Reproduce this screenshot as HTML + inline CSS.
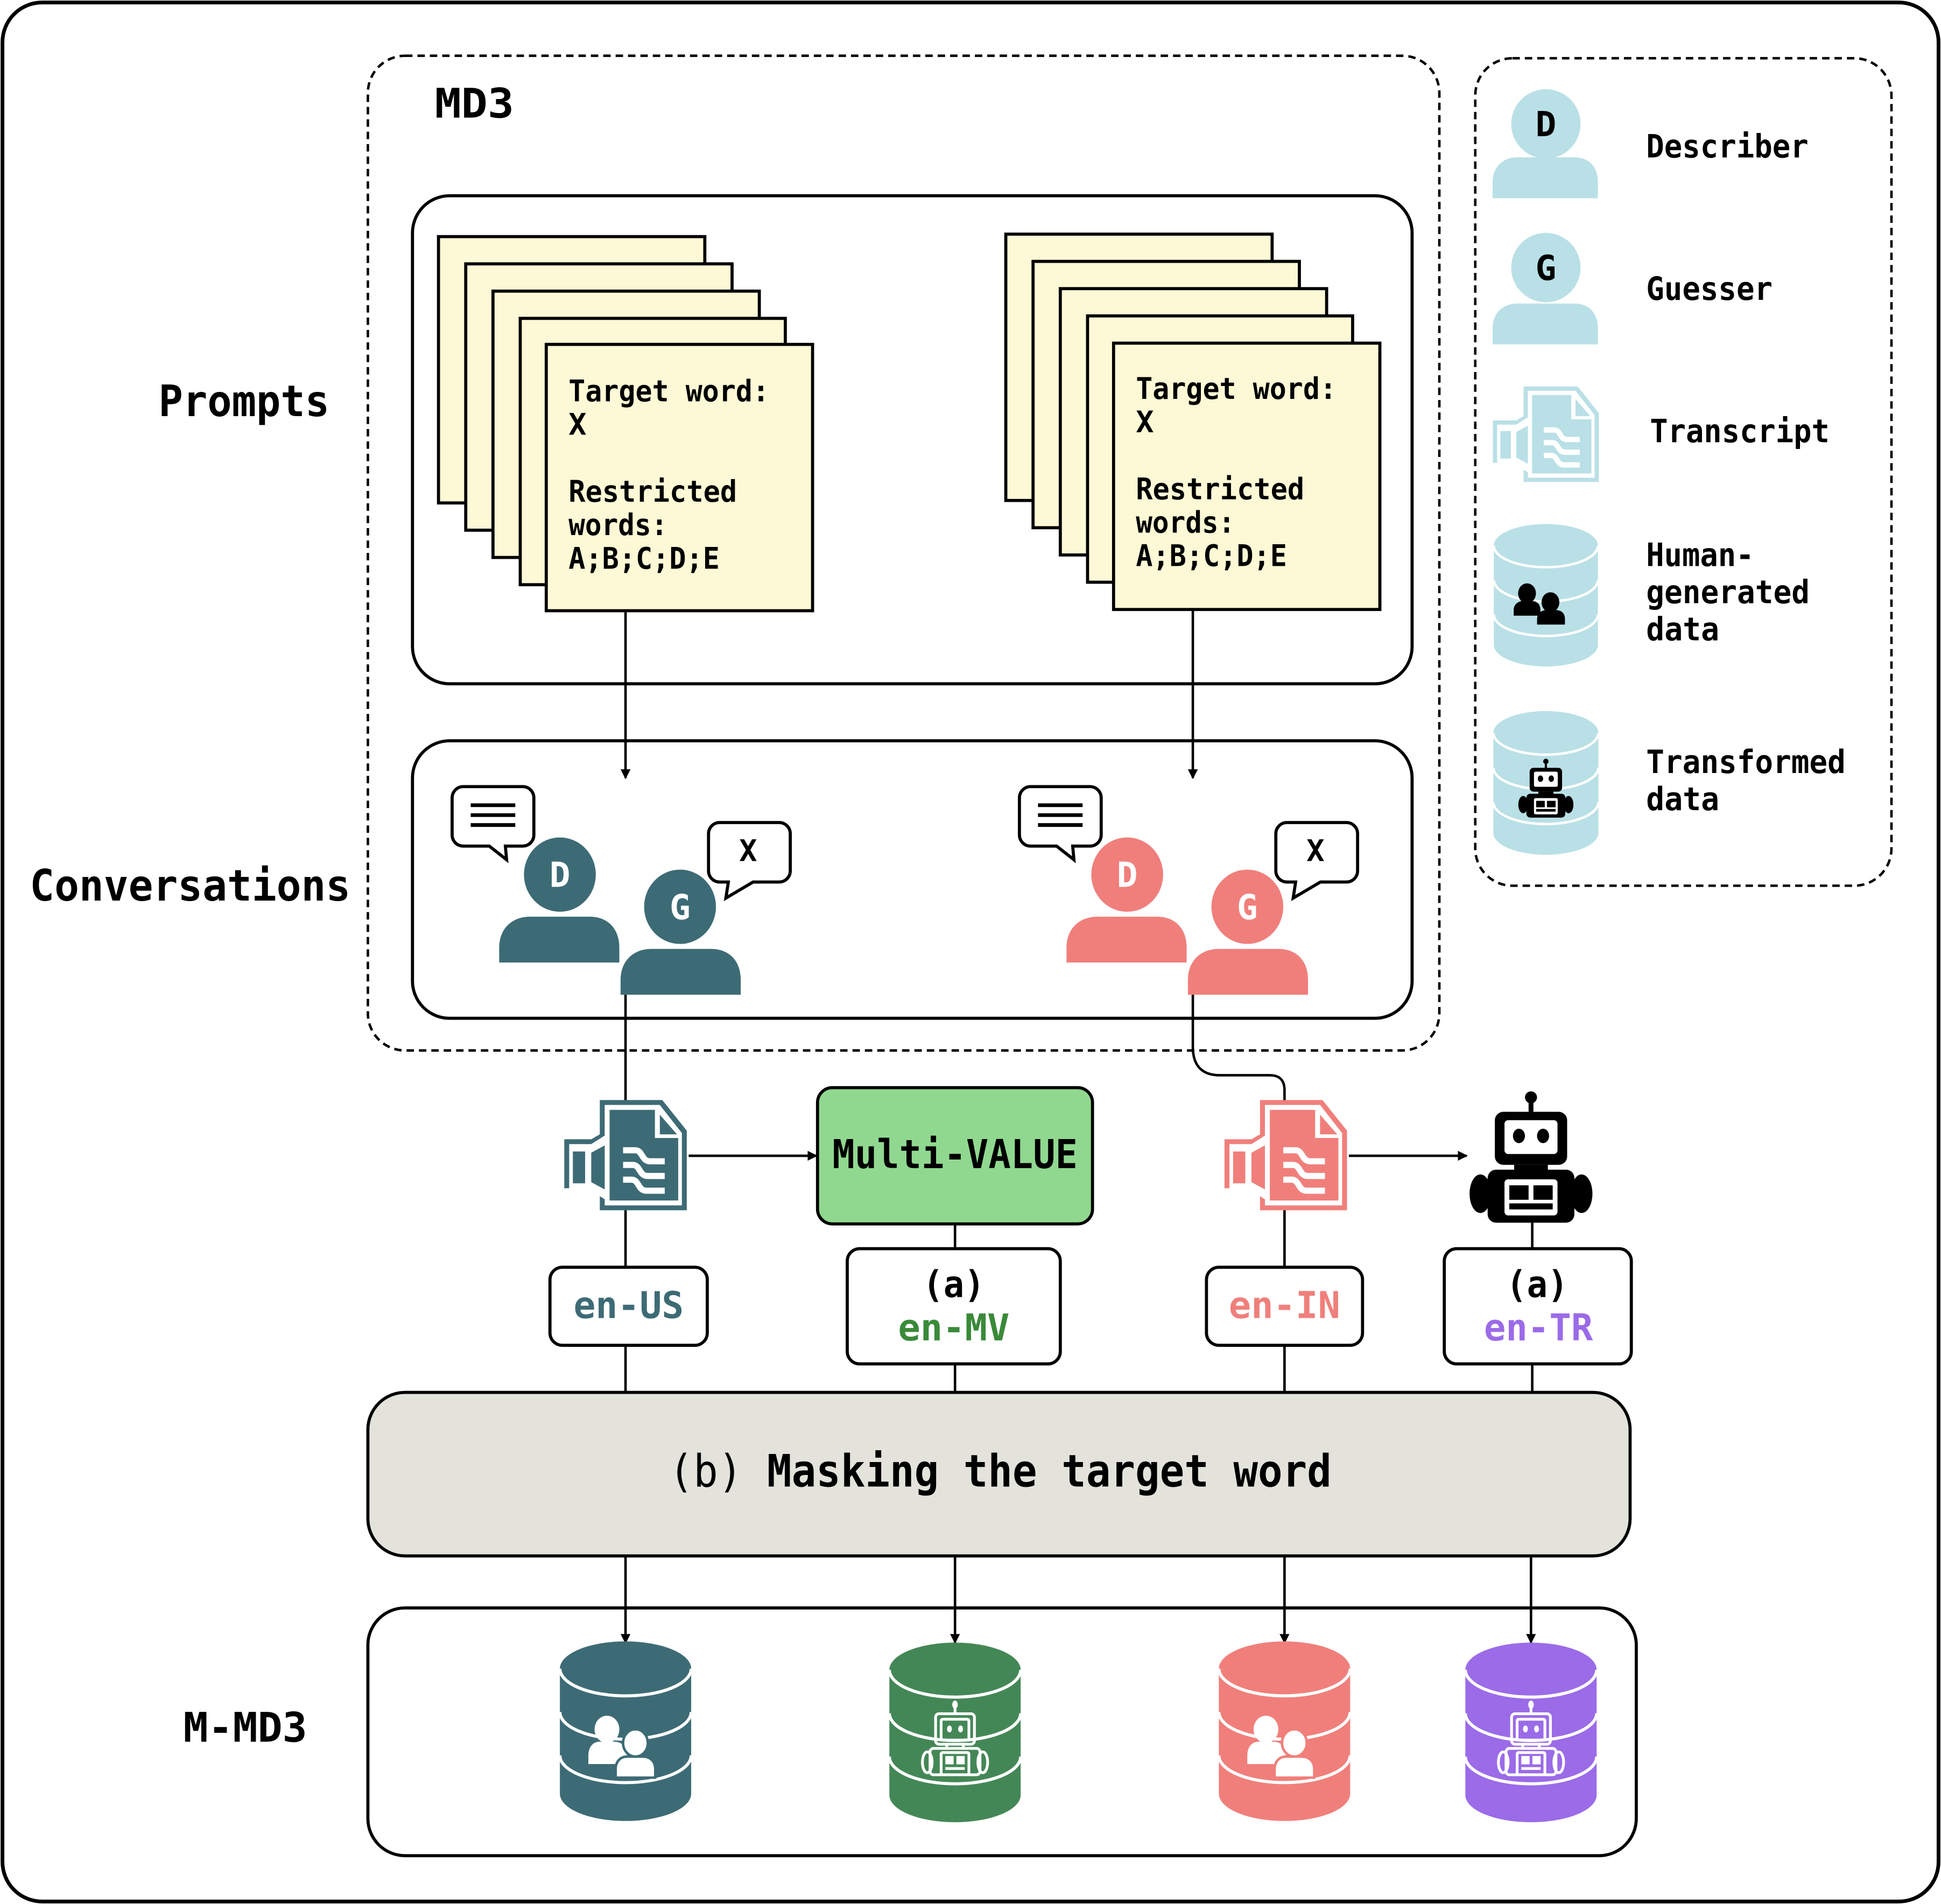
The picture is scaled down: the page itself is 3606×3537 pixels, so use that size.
<!DOCTYPE html>
<html><head><meta charset="utf-8"><style>
html,body{margin:0;padding:0;background:#fff;}
svg{display:block;}
text{font-family:"DejaVu Sans Mono","Liberation Mono",monospace;font-weight:bold;}
</style></head><body>
<svg width="3606" height="3537" viewBox="0 0 1567 1537" xmlns="http://www.w3.org/2000/svg">
<defs>
<marker id="ah" markerWidth="8" markerHeight="8" refX="7" refY="4" orient="auto" markerUnits="userSpaceOnUse"><path d="M0,0 L8,4 L0,8 Z" fill="#000"/></marker>
<symbol id="tr" viewBox="0 0 100 90" overflow="visible">
 <path d="M29,0 H80 L100,25 V90 H29 V76 L22,72 H0 V32 H22 L29,28 Z" fill="currentColor"/>
 <path d="M33,4 H78 L96,27 V86 H33 Z" fill="#fff"/>
 <path d="M37,8 H74 V31 H93 V82 H37 Z" fill="currentColor"/>
 <path d="M78,12 L92,28 H78 Z" fill="currentColor"/>
 <path d="M4,36 H22 L33,29 V81 L22,74 H4 Z" fill="#fff"/>
 <rect x="7" y="42" width="10" height="26" fill="currentColor"/>
 <path d="M22,43 L33,37 V73 L22,67 Z" fill="currentColor"/>
 <path d="M35,30 V82" stroke="#fff" stroke-width="3"/>
 <g stroke="#fff" stroke-width="5" fill="none"><path d="M48,41 H58 C64,41 63,50 70,50 H82"/><path d="M48,53 H56 C62,53 61,62 68,62 H82"/><path d="M48,65 H55 C61,65 60,74 67,74 H82"/></g>
</symbol>
<symbol id="cyl" viewBox="0 0 106 145" overflow="visible">
 <path d="M0,22 A53,22 0 0 1 106,22 V123 A53,22 0 0 1 0,123 Z" fill="currentColor"/>
 <g fill="none" stroke="#fff" stroke-width="2.5"><path d="M0,22 A53,22 0 0 0 106,22"/><path d="M0,57 A53,22 0 0 0 106,57"/><path d="M0,92 A53,22 0 0 0 106,92"/></g>
</symbol>
<symbol id="ppl" viewBox="0 0 60 50" overflow="visible">
 <ellipse cx="18" cy="11" rx="10" ry="11" fill="#fff"/>
 <path d="M3,39 V32 C3,25 7,21 12,21 H24 C30,21 34,25 34,32 V39 Z" fill="#fff"/>
 <ellipse cx="41" cy="22" rx="10" ry="11" fill="#fff" stroke="currentColor" stroke-width="2"/>
 <path d="M25,50 V43 C25,37 29,33 34,33 H47 C53,33 57,37 57,43 V50 Z" fill="#fff" stroke="currentColor" stroke-width="2"/>
</symbol>
<symbol id="rob" viewBox="0 0 100 110" overflow="visible">
 <circle cx="50" cy="6" r="5" fill="currentColor"/>
 <rect x="48" y="8" width="4" height="10" fill="currentColor"/>
 <rect x="20" y="18" width="60" height="44" rx="7" fill="currentColor"/>
 <rect x="28" y="25" width="44" height="28" rx="3" fill="#fff"/>
 <ellipse cx="40" cy="38" rx="5" ry="6" fill="currentColor"/><ellipse cx="60" cy="38" rx="5" ry="6" fill="currentColor"/>
 <rect x="36" y="62" width="28" height="6" fill="currentColor"/>
 <rect x="14" y="66" width="72" height="44" rx="7" fill="currentColor"/>
 <ellipse cx="8" cy="86" rx="9" ry="16" fill="currentColor"/><ellipse cx="92" cy="86" rx="9" ry="16" fill="currentColor"/>
 <rect x="28" y="74" width="44" height="30" rx="3" fill="#fff"/>
 <rect x="32" y="79" width="16" height="12" fill="currentColor"/><rect x="52" y="79" width="16" height="12" fill="currentColor"/>
 <rect x="32" y="94" width="36" height="5" fill="currentColor"/>
</symbol>
<symbol id="robw" viewBox="0 0 100 110" overflow="visible">
 <g fill="none" stroke="#fff" stroke-width="4">
 <ellipse cx="50" cy="7" rx="4" ry="6" fill="#fff" stroke="none"/>
 <path d="M50,12 V20"/>
 <rect x="22" y="20" width="56" height="44" rx="5"/>
 <rect x="30" y="28" width="40" height="30" rx="2"/>
 <path d="M38,64 V70 M62,64 V70"/>
 <rect x="14" y="70" width="72" height="38" rx="5"/>
 <rect x="30" y="76" width="40" height="32" rx="2"/>
 <ellipse cx="10" cy="90" rx="7" ry="15"/><ellipse cx="90" cy="90" rx="7" ry="15"/>
 </g>
 <ellipse cx="42" cy="42" rx="3.5" ry="5" fill="#fff"/><ellipse cx="58" cy="42" rx="3.5" ry="5" fill="#fff"/>
 <rect x="36" y="81" width="12" height="12" fill="#fff"/><rect x="52" y="81" width="12" height="12" fill="#fff"/>
 <rect x="36" y="97" width="28" height="4" fill="#fff"/>
</symbol>
<symbol id="bubT" viewBox="0 0 68 58" overflow="visible">
 <path d="M10,1 H58 A9,9 0 0 1 67,10 V40 A9,9 0 0 1 58,49 H44 L45,60 L31,49 H10 A9,9 0 0 1 1,40 V10 A9,9 0 0 1 10,1 Z" fill="#fff" stroke="#000" stroke-width="2.5"/>
 <path d="M16,16 H52 M16,24 H52 M16,32 H52" stroke="#000" stroke-width="3"/>
</symbol>
<symbol id="bubX" viewBox="0 0 68 58" overflow="visible">
 <path d="M10,1 H58 A9,9 0 0 1 67,10 V40 A9,9 0 0 1 58,49 H37 L15,62 L17,49 H10 A9,9 0 0 1 1,40 V10 A9,9 0 0 1 10,1 Z" fill="#fff" stroke="#000" stroke-width="2.5"/>
</symbol>
</defs>

<rect x="2" y="2" width="1563" height="1533" rx="32" fill="#fff" stroke="#000" stroke-width="3"/>
<rect x="297" y="45" width="865" height="803" rx="30" fill="none" stroke="#000" stroke-width="2" stroke-dasharray="6,4"/>
<rect x="1191" y="47" width="336" height="668" rx="30" fill="none" stroke="#000" stroke-width="2" stroke-dasharray="6,4"/>
<text x="351" y="95" font-size="33" textLength="64" lengthAdjust="spacingAndGlyphs">MD3</text>

<rect x="333" y="158" width="807" height="394" rx="30" fill="#fff" stroke="#000" stroke-width="2.5"/>
<rect x="333" y="598" width="807" height="224" rx="30" fill="#fff" stroke="#000" stroke-width="2.5"/>
<text x="128" y="336" font-size="35" textLength="138" lengthAdjust="spacingAndGlyphs">Prompts</text>
<text x="24" y="727" font-size="35" textLength="259" lengthAdjust="spacingAndGlyphs">Conversations</text>

<!-- paper stacks -->
<g fill="#fdf9d6" stroke="#000" stroke-width="2.5">
<rect x="354" y="191" width="215" height="215"/><rect x="376" y="213" width="215" height="215"/><rect x="398" y="235" width="215" height="215"/><rect x="420" y="257" width="214" height="215"/><rect x="441" y="278" width="215" height="215"/>
<rect x="812" y="189" width="215" height="215"/><rect x="834" y="211" width="215" height="215"/><rect x="856" y="233" width="215" height="215"/><rect x="878" y="255" width="214" height="215"/><rect x="899" y="277" width="215" height="215"/>
</g>
<g font-size="24">
<text x="459" y="324" textLength="162" lengthAdjust="spacingAndGlyphs">Target word:</text><text x="459" y="351" font-weight="normal">X</text>
<text x="459" y="405" textLength="136" lengthAdjust="spacingAndGlyphs">Restricted</text><text x="459" y="432" textLength="80" lengthAdjust="spacingAndGlyphs">words:</text><text x="459" y="459" font-weight="normal" textLength="122" lengthAdjust="spacingAndGlyphs">A;B;C;D;E</text>
<text x="917" y="322" textLength="162" lengthAdjust="spacingAndGlyphs">Target word:</text><text x="917" y="349" font-weight="normal">X</text>
<text x="917" y="403" textLength="136" lengthAdjust="spacingAndGlyphs">Restricted</text><text x="917" y="430" textLength="80" lengthAdjust="spacingAndGlyphs">words:</text><text x="917" y="457" font-weight="normal" textLength="122" lengthAdjust="spacingAndGlyphs">A;B;C;D;E</text>
</g>
<g stroke="#000" stroke-width="2" fill="none">
<path d="M505,493 V628" marker-end="url(#ah)"/>
<path d="M963,492 V628" marker-end="url(#ah)"/>
</g>

<!-- people left -->
<use href="#bubT" x="364" y="634" width="68" height="58"/>
<use href="#bubX" x="571" y="663" width="68" height="58"/>
<text x="604" y="695" font-size="24" text-anchor="middle">X</text>
<g fill="#3d6b75">
<ellipse cx="452" cy="706" rx="29" ry="30"/><path d="M403,777 V765 C403,750 413,740 428,740 H476 C491,740 500,750 500,765 V777 Z"/>
<ellipse cx="549" cy="732" rx="29" ry="30"/><path d="M501,803 V791 C501,776 511,766 526,766 H574 C589,766 598,776 598,791 V803 Z"/>
</g>
<text x="452" y="716" font-size="28" fill="#fff" text-anchor="middle" font-family="DejaVu Sans">D</text>
<text x="549" y="742" font-size="28" fill="#fff" text-anchor="middle" font-family="DejaVu Sans">G</text>

<!-- people right -->
<use href="#bubT" x="822" y="634" width="68" height="58"/>
<use href="#bubX" x="1029" y="663" width="68" height="58"/>
<text x="1062" y="695" font-size="24" text-anchor="middle">X</text>
<g fill="#f07f7b">
<ellipse cx="910" cy="706" rx="29" ry="30"/><path d="M861,777 V765 C861,750 871,740 886,740 H934 C949,740 958,750 958,765 V777 Z"/>
<ellipse cx="1007" cy="732" rx="29" ry="30"/><path d="M959,803 V791 C959,776 969,766 984,766 H1032 C1047,766 1056,776 1056,791 V803 Z"/>
</g>
<text x="910" y="716" font-size="28" fill="#fff" text-anchor="middle" font-family="DejaVu Sans">D</text>
<text x="1007" y="742" font-size="28" fill="#fff" text-anchor="middle" font-family="DejaVu Sans">G</text>

<rect x="297" y="1298" width="1024" height="200" rx="30" fill="#fff" stroke="#000" stroke-width="2.5"/>
<text x="148" y="1406" font-size="33" textLength="100" lengthAdjust="spacingAndGlyphs">M-MD3</text>

<!-- connectors middle -->
<g stroke="#000" stroke-width="2" fill="none">
<path d="M505,803 V888"/>
<path d="M963,803 V845 Q963,868 985,868 H1025 Q1037,868 1037,880 V888"/>
<path d="M556,933 H659" marker-end="url(#ah)"/>
<path d="M1089,933 H1184" marker-end="url(#ah)"/>
<path d="M505,977 V1023 M505,1086 V1124"/>
<path d="M771,988 V1008 M771,1101 V1124"/>
<path d="M1037,977 V1023 M1037,1086 V1124"/>
<path d="M1237,987 V1008 M1237,1101 V1124"/>
<path d="M505,1256 V1326" marker-end="url(#ah)"/>
<path d="M771,1256 V1326" marker-end="url(#ah)"/>
<path d="M1037,1256 V1326" marker-end="url(#ah)"/>
<path d="M1236,1256 V1326" marker-end="url(#ah)"/>
</g>

<use href="#tr" x="455" y="888" width="100" height="89" style="color:#3d6b75"/>
<use href="#tr" x="988" y="888" width="100" height="89" style="color:#f07f7b"/>
<use href="#rob" x="1186" y="880" width="100" height="107" style="color:#000"/>

<rect x="660" y="878" width="222" height="110" rx="12" fill="#90d890" stroke="#000" stroke-width="2.5"/>
<text x="672" y="943" font-size="32" textLength="198" lengthAdjust="spacingAndGlyphs">Multi-VALUE</text>

<g fill="#fff" stroke="#000" stroke-width="2.5">
<rect x="444" y="1023" width="127" height="63" rx="10"/>
<rect x="684" y="1008" width="172" height="93" rx="10"/>
<rect x="974" y="1023" width="126" height="63" rx="10"/>
<rect x="1166" y="1008" width="151" height="93" rx="10"/>
</g>
<g font-size="30">
<text x="463" y="1064" fill="#3d6b75" textLength="89" lengthAdjust="spacingAndGlyphs">en-US</text>
<text x="745" y="1047" font-weight="normal" textLength="50" lengthAdjust="spacingAndGlyphs">(a)</text>
<text x="725" y="1082" fill="#3a8a3a" textLength="90" lengthAdjust="spacingAndGlyphs">en-MV</text>
<text x="992" y="1064" fill="#f07f7b" textLength="90" lengthAdjust="spacingAndGlyphs">en-IN</text>
<text x="1216" y="1047" font-weight="normal" textLength="50" lengthAdjust="spacingAndGlyphs">(a)</text>
<text x="1198" y="1082" fill="#9b6be8" textLength="88" lengthAdjust="spacingAndGlyphs">en-TR</text>
</g>

<rect x="297" y="1124" width="1019" height="132" rx="30" fill="#e3e3dc" stroke="#000" stroke-width="2.5"/>
<text x="540" y="1200" font-size="36" textLength="535" lengthAdjust="spacingAndGlyphs"><tspan font-weight="normal">(b) </tspan>Masking the target word</text>

<use href="#cyl" x="452" y="1325" width="106" height="145" style="color:#3d6b75"/>
<use href="#cyl" x="718" y="1325" width="106" height="147" style="color:#448756"/>
<use href="#cyl" x="984" y="1325" width="106" height="145" style="color:#f07f7b"/>
<use href="#cyl" x="1183" y="1325" width="106" height="147" style="color:#9b6be8"/>
<use href="#ppl" x="472" y="1385" width="60" height="50" style="color:#3d6b75"/>
<use href="#ppl" x="1004" y="1385" width="60" height="50" style="color:#f07f7b"/>
<use href="#robw" x="743" y="1372" width="56" height="62"/>
<use href="#robw" x="1208" y="1372" width="56" height="62"/>

<!-- legend -->
<g fill="#b9e0e6">
<circle cx="1248" cy="100" r="28"/><path d="M1205,160 V147 C1205,135 1213,127 1225,127 H1271 C1283,127 1290,135 1290,147 V160 Z"/>
<circle cx="1248" cy="216" r="28"/><path d="M1205,278 V265 C1205,253 1213,245 1225,245 H1271 C1283,245 1290,253 1290,265 V278 Z"/>
</g>
<text x="1248" y="110" font-size="28" text-anchor="middle" font-family="DejaVu Sans">D</text>
<text x="1248" y="226" font-size="28" text-anchor="middle" font-family="DejaVu Sans">G</text>
<use href="#tr" x="1205" y="312" width="86" height="77" style="color:#b9e0e6"/>
<use href="#cyl" x="1205" y="423" width="86" height="115" style="color:#b9e0e6"/>
<use href="#cyl" x="1205" y="574" width="86" height="116" style="color:#b9e0e6"/>
<g transform="translate(1222,470) scale(0.9)"><ellipse cx="12" cy="10" rx="8" ry="9"/><path d="M0,30 V25 C0,20 4,17 8,17 H17 C21,17 24,20 24,25 V30 Z"/><ellipse cx="33" cy="18" rx="8" ry="9"/><path d="M21,38 V33 C21,28 25,25 29,25 H38 C43,25 46,28 46,33 V38 Z"/></g>
<use href="#rob" x="1226" y="612" width="44" height="48" style="color:#000"/>
<g font-size="26">
<text x="1329" y="127" textLength="131" lengthAdjust="spacingAndGlyphs">Describer</text>
<text x="1329" y="242" textLength="102" lengthAdjust="spacingAndGlyphs">Guesser</text>
<text x="1332" y="357" textLength="145" lengthAdjust="spacingAndGlyphs">Transcript</text>
<text x="1329" y="457" textLength="87" lengthAdjust="spacingAndGlyphs">Human-</text><text x="1329" y="487" textLength="132" lengthAdjust="spacingAndGlyphs">generated</text><text x="1329" y="517" textLength="59" lengthAdjust="spacingAndGlyphs">data</text>
<text x="1329" y="624" textLength="161" lengthAdjust="spacingAndGlyphs">Transformed</text><text x="1329" y="654" textLength="59" lengthAdjust="spacingAndGlyphs">data</text>
</g>
</svg>
</body></html>
